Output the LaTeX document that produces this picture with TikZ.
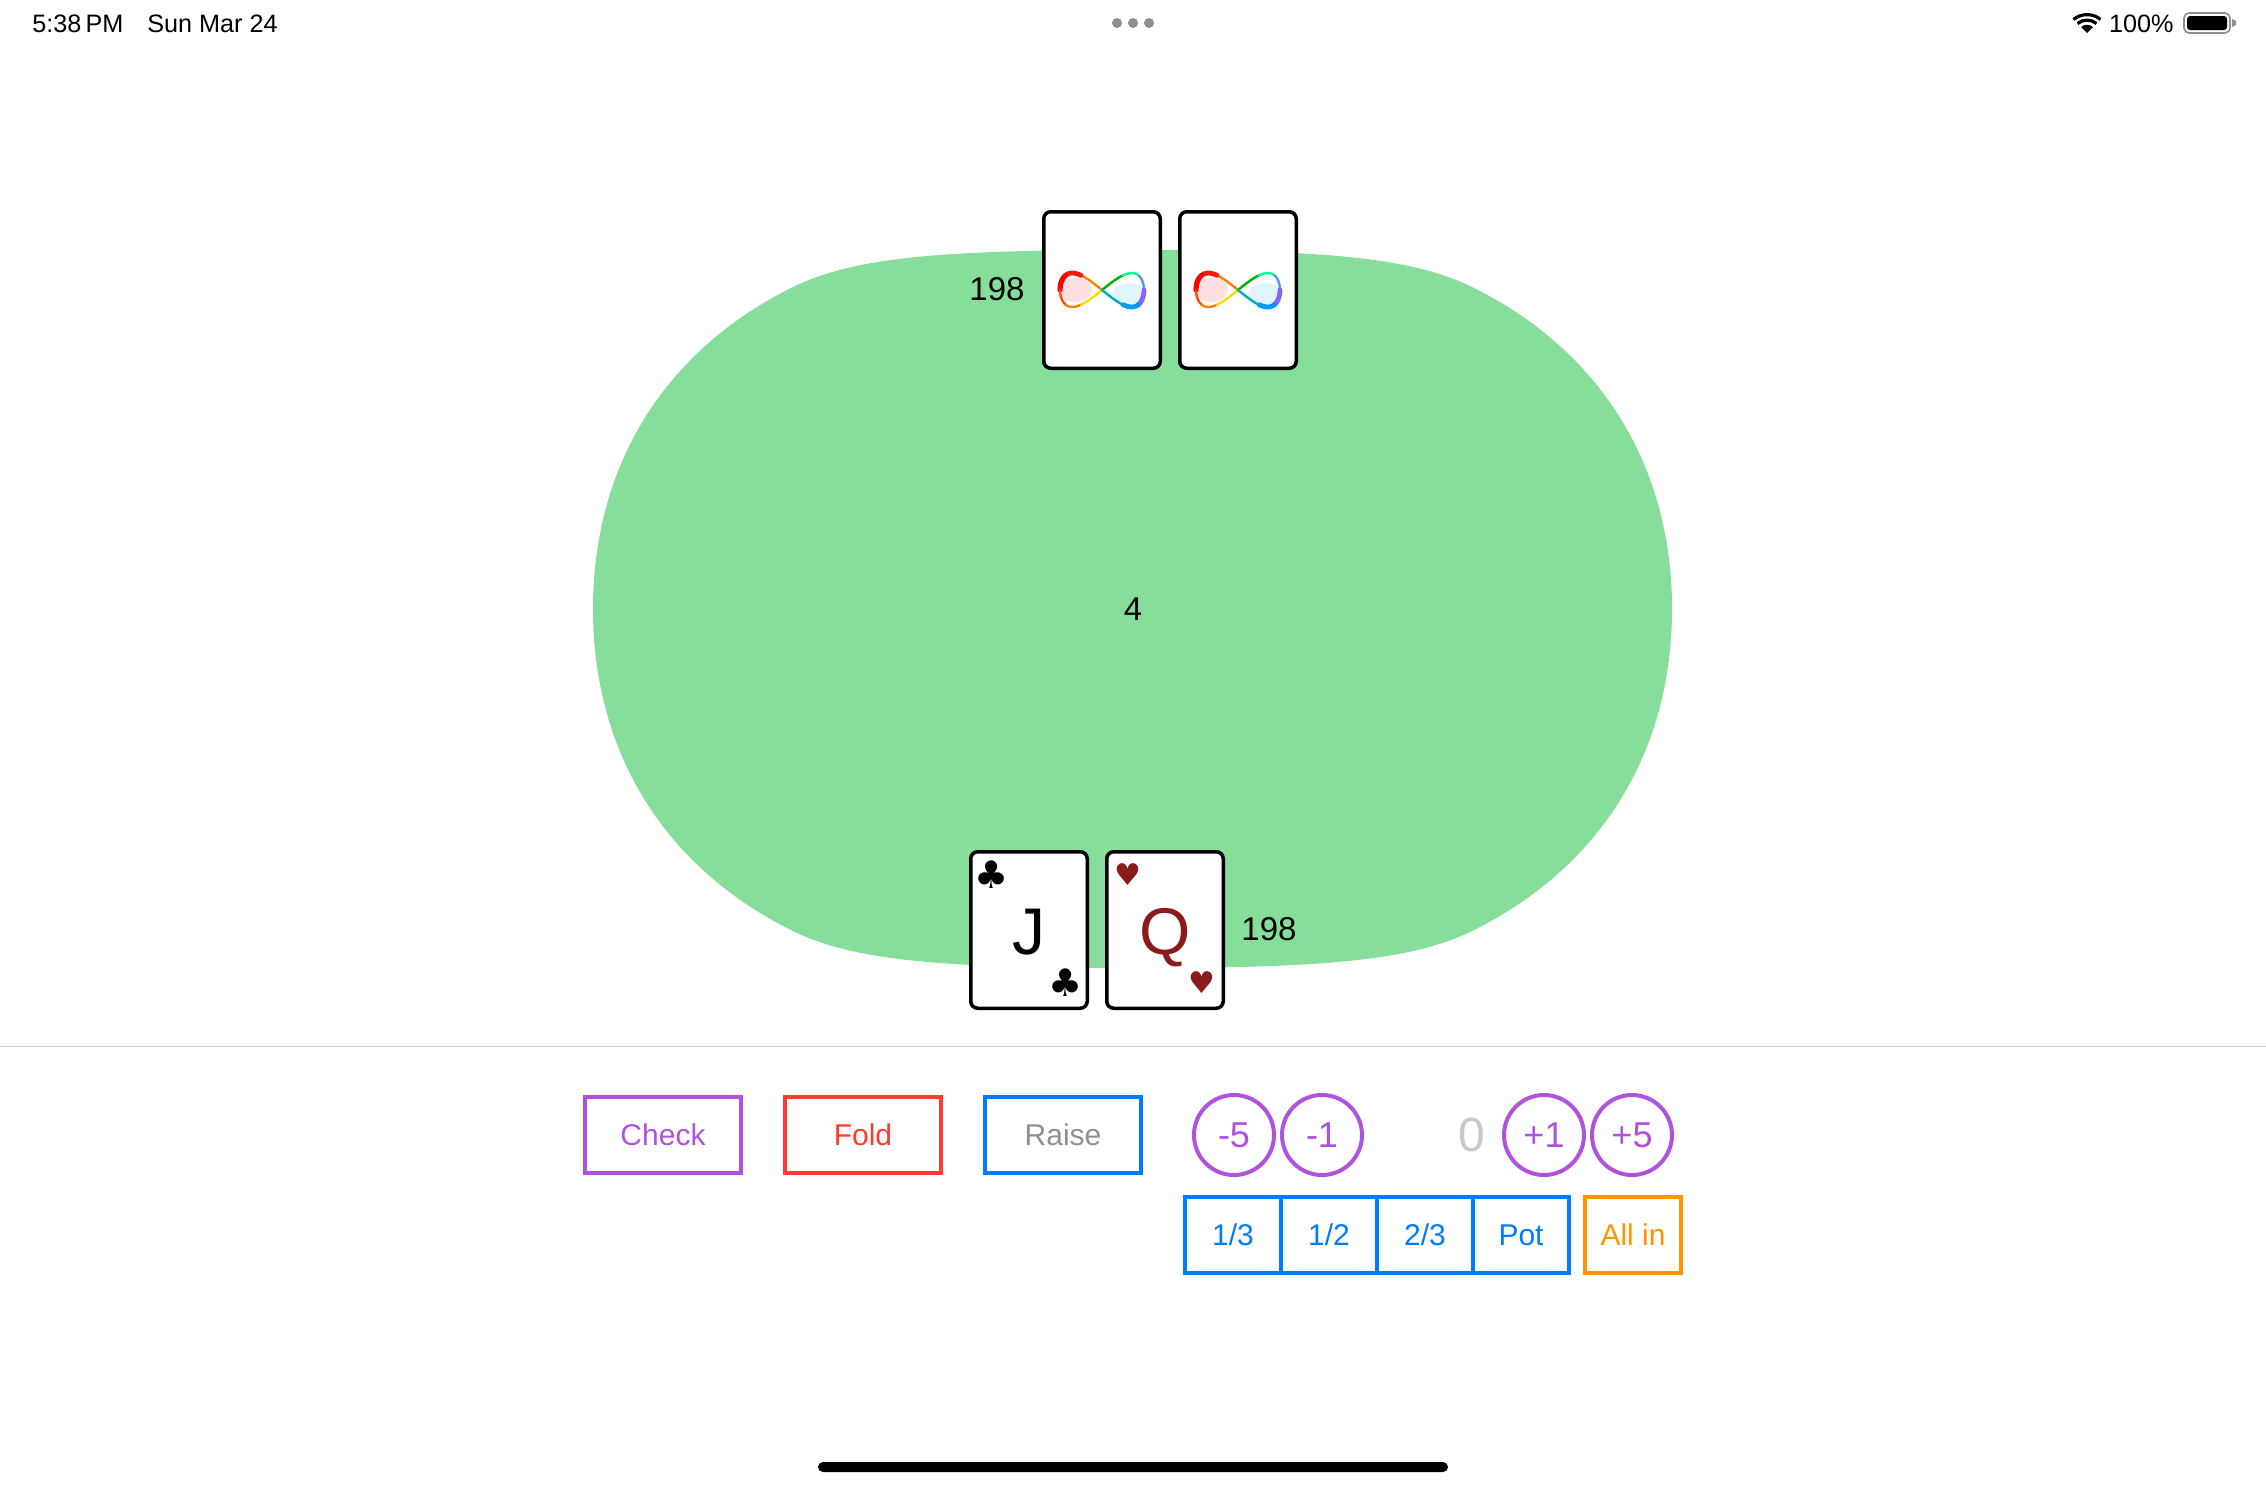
\documentclass[tikz,border=0pt]{standalone}
\usepackage{fontspec}
\setmainfont{Liberation Sans}
\newfontfamily\symfont{DejaVu Sans}
\usetikzlibrary{calc,positioning}
\definecolor{felt}{RGB}{134,222,154}
\definecolor{iospurple}{RGB}{175,82,222}
\definecolor{iosred}{RGB}{255,59,48}
\definecolor{iosblue}{RGB}{0,122,255}
\definecolor{iosorange}{RGB}{255,149,0}
\definecolor{iosgray}{RGB}{142,142,147}
\definecolor{zerogray}{RGB}{199,199,204}
\definecolor{heartred}{RGB}{139,26,26}
\definecolor{infviolet}{RGB}{130,100,255}
\newcommand{\pxfont}[1]{\fontsize{#1}{#1}\selectfont}

\begin{document}
\begin{tikzpicture}[
    x=0.5pt,
    y=-0.5pt,
    node distance=20pt,
    card/.style={
        draw=black,
        fill=white,
        line width=1.75pt,
        rounded corners=3.5pt,
        minimum width=58.25pt,
        minimum height=78.25pt,
        inner sep=0pt
    },
    suit/.style={
        font=\symfont\pxfont{19},
        inner sep=0pt
    },
    heart/.style={
        font=\symfont\pxfont{15},
        text=heartred,
        inner sep=0pt
    },
    rank/.style={
        font=\pxfont{33},
        text height=24pt,
        text depth=0pt,
        inner sep=0pt
    },
    stack/.style={
        font=\pxfont{16.5},
        inner sep=0pt
    },
    status/.style={
        font=\pxfont{12.6},
        inner sep=0pt
    },
    btn/.style={
        draw=#1,
        line width=2pt,
        minimum width=78pt,
        minimum height=38pt,
        inner sep=0pt,
        text height=10.8pt,
        text depth=0pt,
        font=\pxfont{15}
    },
    betbtn/.style={
        btn=#1,
        text=#1,
        minimum width=48pt
    },
    stepper/.style={
        circle,
        draw=iospurple,
        text=iospurple,
        line width=2pt,
        minimum size=40pt,
        inner sep=0pt,
        font=\pxfont{18}
    },
    inftysign/.pic={
        \fill[red!40,opacity=0.3] (-27,0) ellipse [x radius=17,y radius=12];
        \fill[cyan!40,opacity=0.3] (27,5) ellipse [x radius=17,y radius=12];
        \foreach \t/\col/\wd in {
            90/orange/1.2, 120/red!80!orange/2.4, 150/red/2.6,
            180/orange!60!red/1.2, 210/orange/1.2, 240/yellow!80!orange/1.2,
            270/green!70!black/1.2, 300/green!40!cyan/1.2, 330/infviolet!70!cyan/1.2,
            0/infviolet/2.4, 30/blue!40!cyan/2.4, 60/cyan!70!green/1.2
        }{
            \draw[color=\col,line width=\wd pt,line cap=round]
                plot[domain=\t:\t+30,samples=6] ({42*cos(\x)},{17*sin(2*\x)});
        }
    }
]
    \useasboundingbox (0,0) rectangle (2266,1488);

    %% Status bar
    \node[status,anchor=west] (clock) at (32,24) {5:38\,PM};
    \node[status,anchor=west] (date) at (147,24) {Sun Mar 24};
    \foreach \dx in {-16,0,16}
        \fill[iosgray] (1133+\dx,23) circle (5);
    \node[status,anchor=east] (battext) at (2174,24) {100\%};
    \coordinate (wifi) at (2087,33);
    \fill (wifi) -- ++(-6,-6) .. controls ($(wifi)+(-2,-9)$) and ($(wifi)+(2,-9)$) .. ($(wifi)+(6,-6)$) -- cycle;
    \draw[line width=1.6pt] ($(wifi)+(-9.5,-9.5)$) .. controls ($(wifi)+(-4,-14)$) and ($(wifi)+(4,-14)$) .. ($(wifi)+(9.5,-9.5)$);
    \draw[line width=1.6pt] ($(wifi)+(-13.5,-13.5)$) .. controls ($(wifi)+(-6,-20)$) and ($(wifi)+(6,-20)$) .. ($(wifi)+(13.5,-13.5)$);
    \draw[iosgray,line width=0.8pt,rounded corners=2.5pt] (2184,13) rectangle (2230,33);
    \fill[black,rounded corners=1.5pt] (2187,16) rectangle (2227,30);
    \fill[iosgray] (2232,19) -- (2236,21) -- (2236,25) -- (2232,27) -- cycle;

    %% Table
    \fill[felt] (593,609)
        .. controls (593,465) and (665,350) .. (793,287)
        .. controls (856,256) and (950,250) .. (1133,250)
        .. controls (1315,250) and (1409,256) .. (1472,287)
        .. controls (1600,350) and (1672,465) .. (1672,609)
        .. controls (1672,753) and (1600,868) .. (1472,931)
        .. controls (1409,962) and (1315,968) .. (1133,968)
        .. controls (950,968) and (856,962) .. (793,931)
        .. controls (665,868) and (593,753) .. (593,609) -- cycle;
    \node[stack] (pot) at (1133,609) {4};

    %% Opponent
    \node[card] (backleft) at (1102,290) {};
    \node[card,right=8pt of backleft] (backright) {};
    \node[stack] (oppstack) at (997,289) {198};
    \pic at (backleft) {inftysign};
    \pic at (backright) {inftysign};

    %% Hero
    \node[card] (jack) at (1029,930) {};
    \node[card,right=8pt of jack] (queen) {};
    \node[stack] (herostack) at (1269,929) {198};
    \node[rank] (jackrank) at (jack) {J};
    \node[rank,text=heartred] (queenrank) at (queen) {Q};
    \node[suit] (jacktop) at ($(jack.north west)+(23,25)$) {♣};
    \node[suit] (jackbot) at ($(jack.south east)+(-23,-27)$) {♣};
    \node[heart] (queentop) at ($(queen.north west)+(23,25)$) {♥};
    \node[heart] (queenbot) at ($(queen.south east)+(-23,-27)$) {♥};

    %% Controls
    \draw[black!18,line width=0.5pt] (0,1046) -- (2266,1046);
    \node[btn=iospurple,text=iospurple] (check) at (663,1135) {Check};
    \node[btn=iosred,text=iosred,right=of check] (fold) {Fold};
    \node[btn=iosblue,text=iosgray,right=of fold] (raise) {Raise};

    \node[stepper] (minusfive) at (1234,1135) {-5};
    \node[stepper,right=2pt of minusfive] (minusone) {-1};
    \node[stepper] (plusone) at (1544,1135) {+1};
    \node[stepper,right=2pt of plusone] (plusfive) {+5};
    \node[text=zerogray,font=\pxfont{24},inner sep=0pt] (amount) at (1472,1135) {0};

    \node[betbtn=iosblue] (third) at (1233,1235) {1/3};
    \node[betbtn=iosblue,right=-2pt of third] (half) {1/2};
    \node[betbtn=iosblue,right=-2pt of half] (twothirds) {2/3};
    \node[betbtn=iosblue,right=-2pt of twothirds] (potbet) {Pot};
    \node[betbtn=iosorange,right=6pt of potbet] (allin) {All in};

    %% Home bar
    \fill[black,rounded corners=2.5pt] (818,1462) rectangle (1448,1472);
\end{tikzpicture}
\end{document}
